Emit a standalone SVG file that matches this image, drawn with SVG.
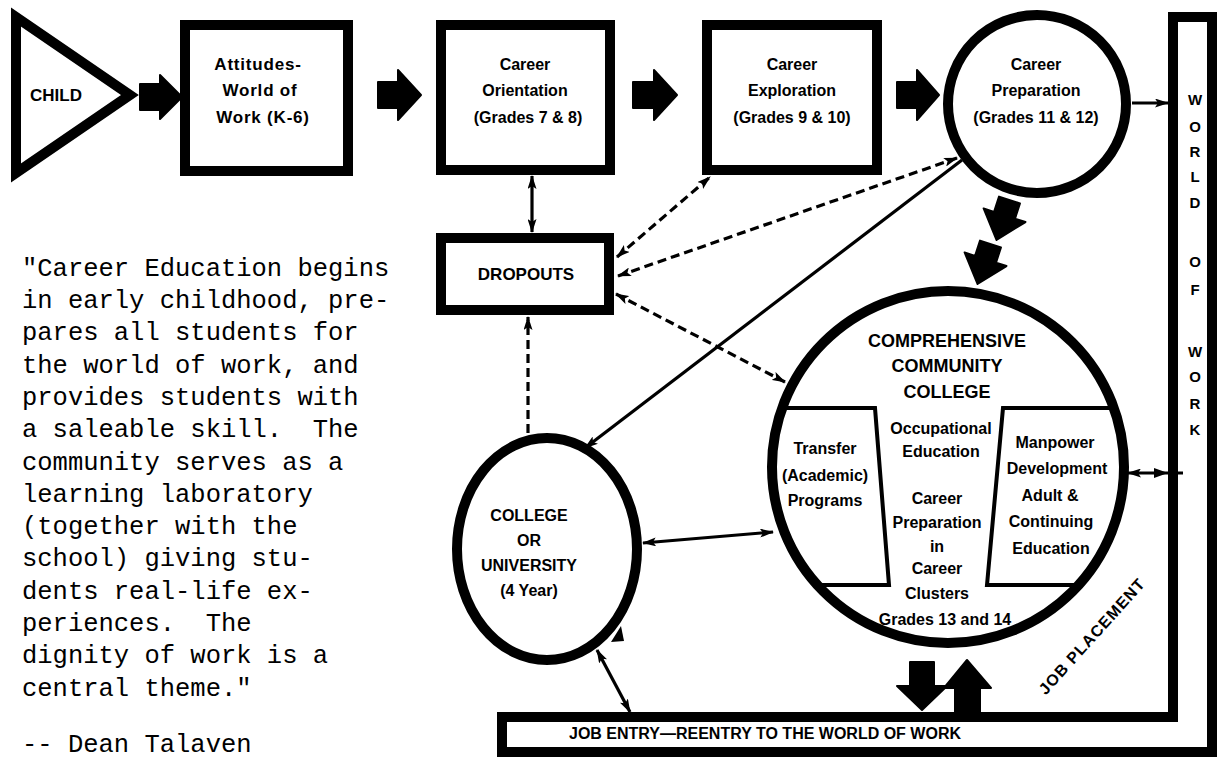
<svg xmlns="http://www.w3.org/2000/svg" width="1220" height="761" viewBox="0 0 1220 761">
<style>
.bg{fill:#fff}
.box{fill:#fff;stroke:#000;stroke-width:10}
.thin{fill:none;stroke:#000;stroke-width:4}
.lb{font-family:"Liberation Sans",Arial,sans-serif;font-weight:bold;text-anchor:middle;fill:#000}
.t16{font-size:16px}
.t17{font-size:17px}
.t18{font-size:18px}
.wide{font-size:17px;letter-spacing:0.8px}
.wow{font-family:"Liberation Sans",Arial,sans-serif;font-weight:bold;font-size:15px;text-anchor:middle}
.q{font-family:"Liberation Mono","Courier New",monospace;font-size:25.5px;fill:#000}
.blk{fill:#000;stroke:#000;stroke-width:2;stroke-linejoin:round}
.c{fill:none;stroke:#000;stroke-width:3.2}
.d{fill:none;stroke:#000;stroke-width:3.2;stroke-dasharray:9 5}
</style>
<defs>
<marker id="ah" viewBox="0 0 14 9" refX="13" refY="4.5" markerWidth="14" markerHeight="9" markerUnits="userSpaceOnUse" orient="auto-start-reverse">
<path d="M0,0 L14,4.5 L0,9 L3,4.5 Z" fill="#000"/>
</marker>
</defs>
<rect class="bg" x="0" y="0" width="1220" height="761"/>

<g id="child">
<polygon points="16,17 16,173 130,95" class="box" stroke-linejoin="miter"/>
<text class="lb t17" x="56" y="101">CHILD</text>
</g>

<g id="attitudes">
<rect class="box" x="185" y="25" width="163" height="146"/>
<text class="lb wide" x="258" y="70">Attitudes-</text>
<text class="lb wide" x="260" y="96">World of</text>
<text class="lb wide" x="263" y="123">Work  (K-6)</text>
</g>

<g id="orientation">
<rect class="box" x="441" y="25" width="169" height="145"/>
<text class="lb t16" x="525" y="70">Career</text>
<text class="lb t16" x="525" y="96">Orientation</text>
<text class="lb t16" x="528" y="123">(Grades 7 &amp; 8)</text>
</g>

<g id="exploration">
<rect class="box" x="707" y="25" width="170" height="145"/>
<text class="lb t16" x="792" y="70">Career</text>
<text class="lb t16" x="792" y="96">Exploration</text>
<text class="lb t16" x="792" y="123">(Grades 9 &amp; 10)</text>
</g>

<g id="preparation">
<circle class="box" cx="1037" cy="104" r="89"/>
<text class="lb t16" x="1036" y="70">Career</text>
<text class="lb t16" x="1036" y="96">Preparation</text>
<text class="lb t16" x="1036" y="123">(Grades 11 &amp; 12)</text>
</g>

<g id="world-of-work">
<path class="box" d="M1173,17 H1212 V752 H502 V717 H1173 Z" stroke-width="9"/>
<text class="wow" x="1195" y="105">W</text>
<text class="wow" x="1195" y="132">O</text>
<text class="wow" x="1195" y="157">R</text>
<text class="wow" x="1195" y="182">L</text>
<text class="wow" x="1195" y="208">D</text>
<text class="wow" x="1195" y="267">O</text>
<text class="wow" x="1195" y="295">F</text>
<text class="wow" x="1195" y="357">W</text>
<text class="wow" x="1195" y="382">O</text>
<text class="wow" x="1195" y="409">R</text>
<text class="wow" x="1195" y="435">K</text>
<text class="lb t16" x="765" y="739">JOB ENTRY—REENTRY TO THE WORLD OF WORK</text>
</g>

<g id="dropouts">
<rect class="box" x="441" y="238" width="168" height="72"/>
<text class="lb t17" x="526" y="280">DROPOUTS</text>
</g>

<g id="college-university">
<ellipse class="box" cx="547" cy="549" rx="90" ry="111"/>
<text class="lb t16" x="529" y="521">COLLEGE</text>
<text class="lb t16" x="529" y="546">OR</text>
<text class="lb t16" x="529" y="571">UNIVERSITY</text>
<text class="lb t16" x="529" y="596">(4 Year)</text>
</g>

<g id="community-college">
<circle class="box" cx="948" cy="467" r="176"/>
<path class="thin" d="M782,408 H875 L889,585 H815"/>
<path class="thin" d="M1115,408 H1003 L987,585 H1081"/>
<text class="lb t18" x="947" y="347">COMPREHENSIVE</text>
<text class="lb t18" x="947" y="372">COMMUNITY</text>
<text class="lb t18" x="947" y="398">COLLEGE</text>
<text class="lb t16" x="825" y="454">Transfer</text>
<text class="lb t16" x="825" y="481">(Academic)</text>
<text class="lb t16" x="825" y="506">Programs</text>
<text class="lb t16" x="941" y="434">Occupational</text>
<text class="lb t16" x="941" y="457">Education</text>
<text class="lb t16" x="937" y="504">Career</text>
<text class="lb t16" x="937" y="528">Preparation</text>
<text class="lb t16" x="937" y="552">in</text>
<text class="lb t16" x="937" y="574">Career</text>
<text class="lb t16" x="937" y="599">Clusters</text>
<text class="lb t16" x="945" y="625">Grades 13 and 14</text>
<text class="lb t16" x="1055" y="448">Manpower</text>
<text class="lb t16" x="1057" y="474">Development</text>
<text class="lb t16" x="1050" y="501">Adult &amp;</text>
<text class="lb t16" x="1051" y="527">Continuing</text>
<text class="lb t16" x="1051" y="554">Education</text>
</g>

<g id="job-placement">
<text class="lb t16" x="0" y="0" letter-spacing="1" transform="translate(1096,640) rotate(-48)">JOB PLACEMENT</text>
</g>

<g id="quote">
<text class="q" xml:space="preserve"><tspan x="22" y="276">"Career Education begins</tspan><tspan x="22" y="308">in early childhood, pre-</tspan><tspan x="22" y="340">pares all students for</tspan><tspan x="22" y="373">the world of work, and</tspan><tspan x="22" y="405">provides students with</tspan><tspan x="22" y="437">a saleable skill.  The</tspan><tspan x="22" y="470">community serves as a</tspan><tspan x="22" y="502">learning laboratory</tspan><tspan x="22" y="534">(together with the</tspan><tspan x="22" y="566">school) giving stu-</tspan><tspan x="22" y="599">dents real-life ex-</tspan><tspan x="22" y="631">periences.  The</tspan><tspan x="22" y="663">dignity of work is a</tspan><tspan x="22" y="696">central theme."</tspan><tspan x="22" y="752">-- Dean Talaven</tspan></text>
</g>

<g id="connectors">
<path class="blk" d="M140,84 H160 V75 L182,97 L160,119 V110 H140 Z"/>
<path class="blk" d="M378,82 H398 V70 L421,95 L398,120 V108 H378 Z"/>
<path class="blk" d="M633,82 H654 V70 L677,95 L654,120 V108 H633 Z"/>
<path class="blk" d="M897,82 H917 V70 L939,95 L917,120 V108 H897 Z"/>
<path class="blk" transform="translate(1003,220) rotate(18)" d="M-11,-21 H11 V-5 H22 L0,21 L-22,-5 H-11 Z"/>
<path class="blk" transform="translate(984,264) rotate(18)" d="M-11,-21 H11 V-5 H22 L0,21 L-22,-5 H-11 Z"/>
<path class="blk" d="M910,662 H934 V686 H947 L922,710 L897,686 H910 Z"/>
<path class="blk" d="M955,712 H980 V688 H991 L967,660 L944,688 H955 Z"/>
<line class="c" x1="1132" y1="103" x2="1168" y2="103" marker-end="url(#ah)"/>
<line class="c" x1="532" y1="176" x2="532" y2="232" marker-start="url(#ah)" marker-end="url(#ah)"/>
<line class="d" x1="528" y1="433" x2="528" y2="317" marker-end="url(#ah)"/>
<line class="d" x1="617" y1="257" x2="710" y2="177" marker-start="url(#ah)" marker-end="url(#ah)"/>
<line class="d" x1="618" y1="276" x2="957" y2="158" marker-start="url(#ah)" marker-end="url(#ah)"/>
<line class="d" x1="616" y1="294" x2="785" y2="382" marker-start="url(#ah)" marker-end="url(#ah)"/>
<line class="c" x1="962" y1="160" x2="585" y2="448" marker-end="url(#ah)"/>
<line class="c" x1="643" y1="543" x2="773" y2="532" marker-start="url(#ah)" marker-end="url(#ah)"/>
<line class="c" x1="597" y1="650" x2="630" y2="712" marker-start="url(#ah)" marker-end="url(#ah)"/>
<polygon points="611,642 621,626 624,641" fill="#000"/>
<line class="c" x1="1128" y1="473" x2="1183" y2="473" marker-start="url(#ah)"/>
<polygon points="1154,468 1168,473 1154,478" fill="#000"/>
</g>
</svg>
